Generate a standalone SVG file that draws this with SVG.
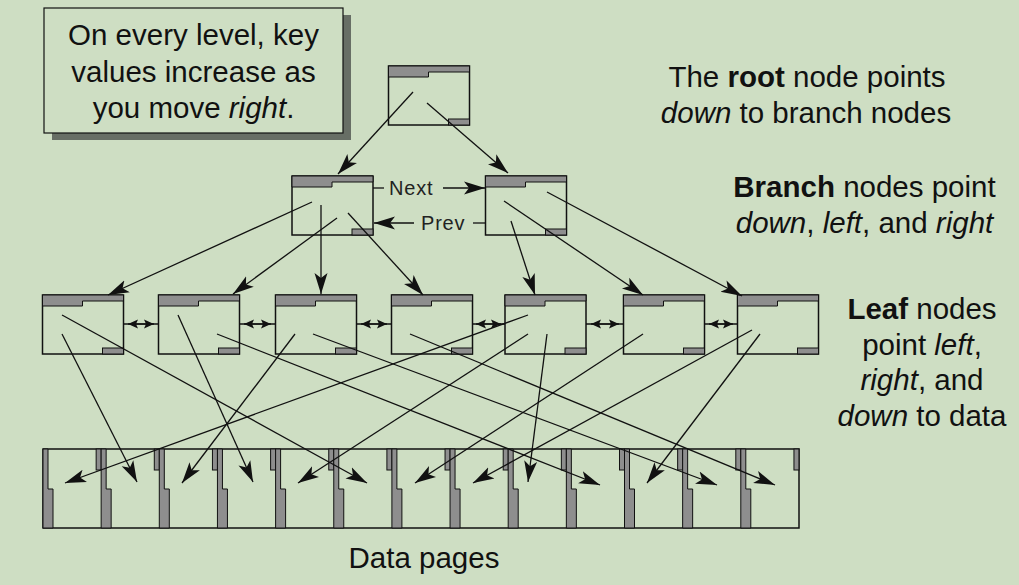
<svg xmlns="http://www.w3.org/2000/svg" xmlns:xlink="http://www.w3.org/1999/xlink" width="1019" height="585" viewBox="0 0 1019 585">
<style>
.t{font-family:"Liberation Sans",Arial,sans-serif;font-size:29.5px;fill:#111}
.lbl{font-family:"Liberation Sans",Arial,sans-serif;font-size:20px;fill:#222;letter-spacing:0.8px}
.ln{stroke:#111;stroke-width:1.3;fill:none}
.arr{stroke:#111;stroke-width:1.3;fill:none;marker-end:url(#ah)}
.dbl{stroke:#111;stroke-width:1.3;fill:none;marker-start:url(#sm);marker-end:url(#sm)}
.box{fill:none;stroke:#111;stroke-width:1.5}
.hat{fill:#8e8e8e;stroke:#111;stroke-width:1}
</style>
<defs>
<marker id="ah" markerUnits="userSpaceOnUse" markerWidth="23" markerHeight="15" refX="21" refY="7.5" orient="auto">
<path d="M0,1 L21,7.5 L0,14 L5,7.5 Z" fill="#111"/>
</marker>
<marker id="sm" markerUnits="userSpaceOnUse" markerWidth="12" markerHeight="10" refX="10" refY="5" orient="auto-start-reverse">
<path d="M0,0.5 L10,5 L0,9.5 L2,5 Z" fill="#111"/>
</marker>
<g id="node">
<rect x="0" y="0" width="81" height="59" class="box"/>
<path d="M0,0 H81 V6 H40 V11 H0 Z" class="hat"/>
<rect x="60" y="53" width="21" height="6" class="hat"/>
</g>
<g id="page">
<path d="M0,0 H5 V40 H10 V79 H0 Z" class="hat"/>
<rect x="53.15" y="0" width="5" height="21" class="hat"/>
</g>
</defs>
<rect width="1019" height="585" fill="#cedec3"/>

<g id="note">
<rect x="52" y="15" width="299" height="125" fill="#676e65"/>
<rect x="44" y="8" width="299" height="125" fill="#cedec3" stroke="#111" stroke-width="1.2"/>
<text class="t" text-anchor="middle" x="193.5" y="45">On every level, key</text>
<text class="t" text-anchor="middle" x="193.5" y="81.5">values increase as</text>
<text class="t" text-anchor="middle" x="193.5" y="117.5">you move <tspan font-style="italic">right</tspan>.</text>
</g>

<g id="root"><use xlink:href="#node" transform="translate(388.5,66)"/></g>
<g id="branch-left"><use xlink:href="#node" transform="translate(292,176)"/></g>
<g id="branch-right"><use xlink:href="#node" transform="translate(485.5,176)"/></g>
<g id="leaf-1"><use xlink:href="#node" transform="translate(42.5,295)"/></g>
<g id="leaf-2"><use xlink:href="#node" transform="translate(158.5,295)"/></g>
<g id="leaf-3"><use xlink:href="#node" transform="translate(275.5,295)"/></g>
<g id="leaf-4"><use xlink:href="#node" transform="translate(391.5,295)"/></g>
<g id="leaf-5"><use xlink:href="#node" transform="translate(505,295)"/></g>
<g id="leaf-6"><use xlink:href="#node" transform="translate(623.5,295)"/></g>
<g id="leaf-7"><use xlink:href="#node" transform="translate(737.5,295)"/></g>

<g id="data-pages">
<rect x="43" y="449" width="756" height="79" class="box" stroke-width="1.3"/>
<g id="page-0"><use xlink:href="#page" transform="translate(43,449)"/></g>
<g id="page-1"><use xlink:href="#page" transform="translate(101.15,449)"/></g>
<g id="page-2"><use xlink:href="#page" transform="translate(159.3,449)"/></g>
<g id="page-3"><use xlink:href="#page" transform="translate(217.45,449)"/></g>
<g id="page-4"><use xlink:href="#page" transform="translate(275.6,449)"/></g>
<g id="page-5"><use xlink:href="#page" transform="translate(333.75,449)"/></g>
<g id="page-6"><use xlink:href="#page" transform="translate(391.9,449)"/></g>
<g id="page-7"><use xlink:href="#page" transform="translate(450.05,449)"/></g>
<g id="page-8"><use xlink:href="#page" transform="translate(508.2,449)"/></g>
<g id="page-9"><use xlink:href="#page" transform="translate(566.35,449)"/></g>
<g id="page-10"><use xlink:href="#page" transform="translate(624.5,449)"/></g>
<g id="page-11"><use xlink:href="#page" transform="translate(682.65,449)"/></g>
<g id="page-12"><use xlink:href="#page" transform="translate(740.8,449)"/></g>
<text class="t" text-anchor="middle" x="424" y="568">Data pages</text>
</g>

<g id="connectors">
<line class="arr" x1="413" y1="92" x2="338" y2="174"/>
<line class="arr" x1="427" y1="103" x2="508" y2="173"/>
<line class="ln" x1="373" y1="188" x2="384" y2="188"/>
<line class="arr" x1="443" y1="188" x2="485" y2="188"/>
<line class="arr" x1="414" y1="223" x2="374" y2="223"/>
<line class="ln" x1="473" y1="223" x2="485.5" y2="223"/>
<line class="arr" x1="312" y1="202" x2="108" y2="295"/>
<line class="arr" x1="337" y1="218" x2="233" y2="294"/>
<line class="arr" x1="321" y1="205" x2="321" y2="294"/>
<line class="arr" x1="348" y1="213" x2="423" y2="295"/>
<line class="arr" x1="511" y1="221" x2="535" y2="295"/>
<line class="arr" x1="504" y1="201" x2="643" y2="295"/>
<line class="arr" x1="547" y1="192" x2="742" y2="296"/>
<line class="ln" x1="123.5" y1="324" x2="158.5" y2="324"/>
<line class="dbl" x1="128" y1="324" x2="154" y2="324"/>
<line class="ln" x1="239.5" y1="324" x2="275.5" y2="324"/>
<line class="dbl" x1="244" y1="324" x2="271" y2="324"/>
<line class="ln" x1="356.5" y1="324" x2="391.5" y2="324"/>
<line class="dbl" x1="361" y1="324" x2="387" y2="324"/>
<line class="ln" x1="472.5" y1="324" x2="505" y2="324"/>
<line class="dbl" x1="476" y1="324" x2="501" y2="324"/>
<line class="ln" x1="586" y1="324" x2="623.5" y2="324"/>
<line class="dbl" x1="591" y1="324" x2="619" y2="324"/>
<line class="ln" x1="704.5" y1="324" x2="737.5" y2="324"/>
<line class="dbl" x1="709" y1="324" x2="733" y2="324"/>
<line class="arr" x1="62" y1="334" x2="137" y2="482"/>
<line class="arr" x1="62" y1="315" x2="367" y2="483"/>
<line class="arr" x1="178" y1="315" x2="253" y2="482"/>
<line class="arr" x1="217" y1="334" x2="600" y2="485"/>
<line class="arr" x1="295" y1="334" x2="182" y2="483"/>
<line class="arr" x1="313" y1="334" x2="717" y2="485"/>
<line class="arr" x1="410" y1="334" x2="775" y2="485"/>
<line class="arr" x1="528" y1="315" x2="65" y2="483"/>
<line class="arr" x1="528" y1="334" x2="298" y2="483"/>
<line class="arr" x1="547" y1="334" x2="528" y2="482"/>
<line class="arr" x1="643" y1="334" x2="415" y2="483"/>
<line class="arr" x1="752" y1="330" x2="473" y2="483"/>
<line class="arr" x1="760" y1="334" x2="647" y2="483"/>
</g>

<g id="labels">
<text class="lbl" x="389" y="195">Next</text>
<text class="lbl" x="421" y="230">Prev</text>
<text class="t" text-anchor="middle" x="807" y="87">The <tspan font-weight="bold">root</tspan> node points</text>
<text class="t" text-anchor="middle" x="806" y="123"><tspan font-style="italic">down</tspan> to branch nodes</text>
<text class="t" text-anchor="middle" x="864.5" y="197"><tspan font-weight="bold">Branch</tspan> nodes point</text>
<text class="t" text-anchor="middle" x="864.5" y="233"><tspan font-style="italic">down</tspan>, <tspan font-style="italic">left</tspan>, and <tspan font-style="italic">right</tspan></text>
<text class="t" text-anchor="middle" x="922" y="319"><tspan font-weight="bold">Leaf</tspan> nodes</text>
<text class="t" text-anchor="middle" x="922" y="355">point <tspan font-style="italic">left</tspan>,</text>
<text class="t" text-anchor="middle" x="922" y="390"><tspan font-style="italic">right</tspan>, and</text>
<text class="t" text-anchor="middle" x="922" y="426"><tspan font-style="italic">down</tspan> to data</text>
</g>
</svg>
